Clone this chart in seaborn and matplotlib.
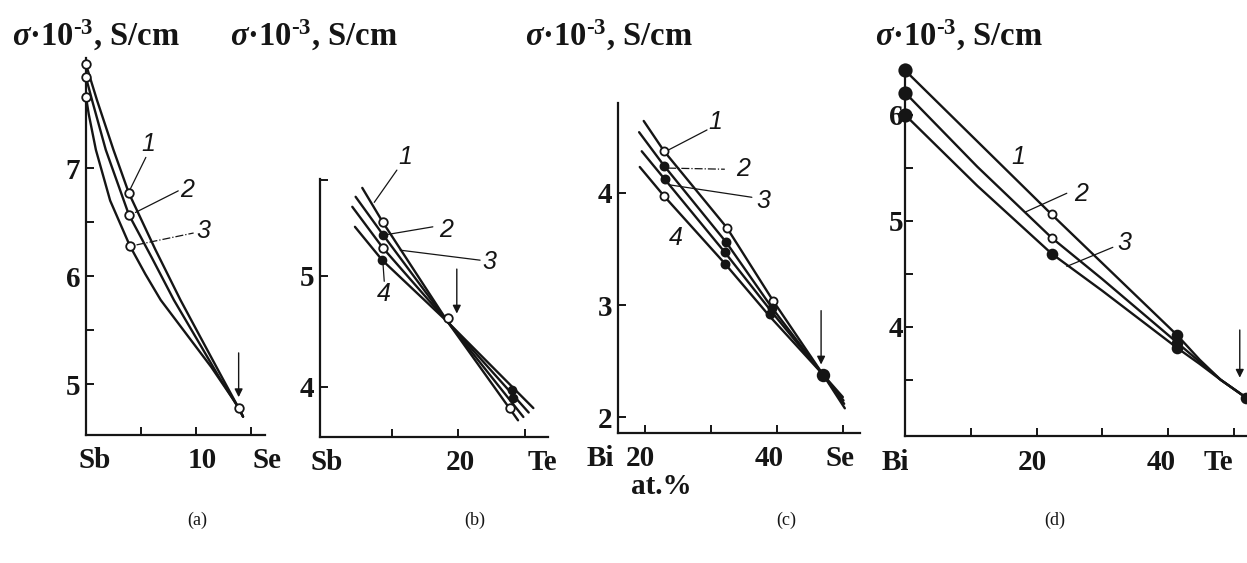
import numpy as np
import pandas as pd
import matplotlib
matplotlib.use("Agg")
import matplotlib.pyplot as plt
import seaborn as sns

sns.set_style("ticks")
plt.rcParams['font.family'] = ['Liberation Serif', 'DejaVu Serif']
plt.rcParams['mathtext.fontset'] = 'custom'
plt.rcParams['mathtext.rm'] = 'Liberation Serif:bold'
plt.rcParams['mathtext.it'] = 'Liberation Serif:italic:bold'
plt.rcParams['mathtext.bf'] = 'Liberation Serif:bold'

INK = '#151515'

# ---------------- data ----------------
# panel (a): Sb - Se
a_x1 = [0, 1.0, 2.5, 3.9, 6.3, 8.6, 10.5, 12.3, 13.9, 14.3]
a_y1 = [7.96, 7.63, 7.17, 6.77, 6.25, 5.78, 5.42, 5.08, 4.78, 4.70]
a_x2 = [0, 0.55, 1.8, 3.9, 6.0, 8.0, 10.2, 12.1, 13.9, 14.3]
a_y2 = [7.84, 7.63, 7.17, 6.57, 6.17, 5.78, 5.40, 5.07, 4.78, 4.70]
a_x3 = [0, 0.25, 0.9, 2.2, 4.0, 5.4, 6.8, 9.1, 11.4, 13.4, 13.9, 14.3]
a_y3 = [7.66, 7.50, 7.17, 6.70, 6.28, 6.02, 5.78, 5.47, 5.16, 4.86, 4.78, 4.70]
a_open_x = [0, 0, 0, 3.9, 3.9, 4.0, 13.9]
a_open_y = [7.96, 7.84, 7.66, 6.77, 6.57, 6.28, 4.78]

# panel (b): Sb - Te
b_x1 = [5.6, 8.7, 18.5, 29.0]
b_y1 = [5.79, 5.48, 4.58, 3.70]
b_x2 = [4.6, 8.7, 18.5, 29.8]
b_y2 = [5.71, 5.37, 4.58, 3.73]
b_x3 = [4.1, 8.7, 18.5, 30.6]
b_y3 = [5.62, 5.25, 4.58, 3.77]
b_x4 = [4.5, 8.6, 18.5, 31.3]
b_y4 = [5.44, 5.14, 4.58, 3.81]
b_open_x = [8.7, 8.7, 18.5, 27.8]
b_open_y = [5.48, 5.25, 4.62, 3.81]
b_fill_x = [8.6, 8.7, 28.1, 28.3]
b_fill_y = [5.14, 5.37, 3.97, 3.90]

# panel (c): Bi - Se
c_x1 = [19.8, 22.9, 32.4, 39.4, 47.0, 50.3]
c_y1 = [4.64, 4.37, 3.69, 3.04, 2.38, 2.08]
c_x2 = [19.1, 22.9, 32.3, 39.2, 47.0, 50.2]
c_y2 = [4.54, 4.24, 3.56, 2.98, 2.38, 2.12]
c_x3 = [19.5, 23.0, 32.1, 39.2, 47.0, 50.1]
c_y3 = [4.37, 4.12, 3.47, 2.94, 2.38, 2.15]
c_x4 = [19.2, 22.9, 32.1, 38.9, 47.0, 50.0]
c_y4 = [4.23, 3.97, 3.37, 2.90, 2.38, 2.18]
c_open_x = [22.9, 22.9, 32.4, 39.4]
c_open_y = [4.37, 3.97, 3.69, 3.04]
c_fill_x = [22.9, 23.0, 32.3, 32.1, 32.1, 39.2, 39.0, 47.0]
c_fill_y = [4.24, 4.12, 3.56, 3.47, 3.37, 2.97, 2.92, 2.38]

# panel (d): Bi - Te
d_x1 = [0, 22.3, 41.4, 44.8, 48.0, 51.9]
d_y1 = [6.42, 5.06, 3.92, 3.69, 3.50, 3.33]
d_x2 = [0, 11.0, 22.3, 30.0, 41.4, 44.8, 48.0, 51.9]
d_y2 = [6.21, 5.51, 4.84, 4.45, 3.85, 3.67, 3.50, 3.33]
d_x3 = [0, 11.0, 22.3, 30.0, 41.4, 44.8, 48.0, 51.9]
d_y3 = [6.00, 5.33, 4.69, 4.34, 3.80, 3.65, 3.50, 3.33]
d_open_x = [22.3, 22.3]
d_open_y = [5.06, 4.84]
d_fill_x = [0, 0, 0, 22.3, 41.4, 41.4, 41.4, 51.9]
d_fill_y = [6.42, 6.21, 6.00, 4.69, 3.92, 3.85, 3.80, 3.33]

title_text = '$\\sigma$\u00b710$^{\u20103}$, S/cm'
panel_names = ['(a)', '(b)', '(c)', '(d)']
a_elem = ['Sb', 'Se']
b_elem = ['Sb', 'Te']
c_elem = ['Bi', 'Se']
d_elem = ['Bi', 'Te']
xunit = 'at.%'

# ---------------- figure ----------------
W, H = 1247, 563
fig = plt.figure(figsize=(W / 100, H / 100), dpi=100)
fig.patch.set_facecolor('white')


def make_ax(l, r, b, t, xlim, ylim):
    ax = fig.add_axes([l / W, 1 - b / H, (r - l) / W, (b - t) / H])
    ax.set_xlim(*xlim)
    ax.set_ylim(*ylim)
    ax.set_facecolor('none')
    for s in ['top', 'right']:
        ax.spines[s].set_visible(False)
    for s in ['left', 'bottom']:
        ax.spines[s].set_linewidth(1.6)
        ax.spines[s].set_color(INK)
    ax.tick_params(which='both', direction='in', color=INK, width=1.4)
    ax.tick_params(axis='both', which='major', length=6, labelsize=21, pad=4)
    ax.tick_params(axis='both', which='minor', length=6)
    ax.tick_params(axis='x', which='major', pad=9)
    return ax


def style_labels(ax):
    for lab in ax.get_xticklabels() + ax.get_yticklabels():
        lab.set_fontweight('bold')
        lab.set_color(INK)


def lines(ax, pairs):
    for xs, ys in pairs:
        sns.lineplot(x=xs, y=ys, ax=ax, color=INK, lw=1.7, sort=False,
                     estimator=None, legend=False)


def pts(ax, xs, ys, filled, s=40):
    sns.scatterplot(x=xs, y=ys, ax=ax, s=s, marker='o',
                    facecolor=INK if filled else 'white', edgecolor=INK,
                    linewidth=1.3, zorder=4, legend=False, clip_on=False)


def elem(ax, x, txt):
    ax.annotate(txt, xy=(x, 0), xycoords=('data', 'axes fraction'),
                xytext=(0, -9), textcoords='offset points', ha='center', va='top',
                fontsize=21, fontweight='bold', color=INK, annotation_clip=False)


def curve_label(ax, x, y, txt, lead=None, ls='-'):
    ax.text(x, y, txt, fontsize=18, style='italic', family='Liberation Sans',
            color=INK, ha='center', va='center', clip_on=False)
    if lead is not None:
        (x0, y0), (x1, y1) = lead
        ax.plot([x0, x1], [y0, y1], color=INK, lw=0.9, ls=ls, clip_on=False)


def arrow(ax, x, y0, y1):
    ax.annotate('', xy=(x, y1), xytext=(x, y0),
                arrowprops=dict(arrowstyle='-|>', color=INK, lw=1.0,
                                mutation_scale=12, shrinkA=0, shrinkB=0))


# ----- (a)
axa = make_ax(86, 265, 435, 58, (0, 16.3), (4.53, 8.02))
lines(axa, [(a_x1, a_y1), (a_x2, a_y2), (a_x3, a_y3)])
pts(axa, a_open_x, a_open_y, False, 38)
axa.set_yticks([5, 6, 7], ['5', '6', '7'])
axa.set_yticks([5.5, 6.5], minor=True)
axa.set_xticks([10.6], ['10'])
axa.tick_params(axis='x', which='major', length=0)
axa.set_xticks([5, 10, 15], minor=True)
elem(axa, 0.8, a_elem[0])
elem(axa, 16.5, a_elem[1])
curve_label(axa, 5.7, 7.22, '1', ((3.95, 6.79), (5.45, 7.10)))
curve_label(axa, 9.2, 6.80, '2', ((4.5, 6.59), (8.4, 6.79)))
curve_label(axa, 10.7, 6.42, '3', ((4.6, 6.29), (9.8, 6.40)), ls='-.')
arrow(axa, 13.9, 5.29, 4.88)
style_labels(axa)

# ----- (b)
axb = make_ax(320, 548, 437, 179, (-0.75, 33.5), (3.55, 5.87))
lines(axb, [(b_x1, b_y1), (b_x2, b_y2), (b_x3, b_y3), (b_x4, b_y4)])
pts(axb, b_open_x, b_open_y, False, 38)
pts(axb, b_fill_x, b_fill_y, True, 32)
axb.set_yticks([4, 5], ['4', '5'])
axb.set_yticks([5.86], minor=True)
axb.set_xticks([20.3], ['20'])
axb.tick_params(axis='x', which='major', length=0)
axb.set_xticks([10, 20, 30], minor=True)
elem(axb, 0.3, b_elem[0])
elem(axb, 32.6, b_elem[1])
curve_label(axb, 12.0, 6.07, '1', ((7.4, 5.66), (10.8, 5.95)))
curve_label(axb, 18.2, 5.41, '2', ((8.3, 5.36), (16.2, 5.44)))
curve_label(axb, 24.7, 5.12, '3', ((11.3, 5.23), (23.3, 5.14)))
curve_label(axb, 8.9, 4.84, '4', ((8.7, 5.12), (8.9, 4.95)))
arrow(axb, 19.8, 5.06, 4.66)
style_labels(axb)

# ----- (c)
axc = make_ax(618, 860, 433, 103, (15.9, 52.6), (1.86, 4.80))
lines(axc, [(c_x1, c_y1), (c_x2, c_y2), (c_x3, c_y3), (c_x4, c_y4)])
pts(axc, c_open_x, c_open_y, False, 34)
pts(axc, c_fill_x[:-1], c_fill_y[:-1], True, 34)
pts(axc, c_fill_x[-1:], c_fill_y[-1:], True, 70)
axc.set_yticks([2, 3, 4], ['2', '3', '4'])
axc.set_xticks([19.3, 38.8], ['20', '40'])
axc.tick_params(axis='x', which='major', length=0)
axc.set_xticks([20, 30, 40, 50], minor=True)
elem(axc, 13.2, c_elem[0])
elem(axc, 49.6, c_elem[1])
curve_label(axc, 30.7, 4.63, '1', ((23.5, 4.38), (29.4, 4.56)))
curve_label(axc, 34.9, 4.21, '2', ((23.5, 4.22), (32.1, 4.21)), ls='-.')
curve_label(axc, 38.0, 3.93, '3', ((23.8, 4.07), (36.2, 3.96)))
curve_label(axc, 24.6, 3.60, '4')
arrow(axc, 46.7, 2.95, 2.47)
axc.annotate(xunit, xy=(0.18, 0), xycoords='axes fraction', xytext=(0, -29),
             textcoords='offset points', ha='center', va='top', fontsize=21,
             fontweight='bold', color=INK)
style_labels(axc)

# ----- (d)
axd = make_ax(905, 1247, 436, 65, (0, 52.0), (2.97, 6.47))
lines(axd, [(d_x1, d_y1), (d_x2, d_y2), (d_x3, d_y3)])
pts(axd, d_open_x, d_open_y, False, 34)
pts(axd, d_fill_x[:3], d_fill_y[:3], True, 80)
pts(axd, d_fill_x[3:], d_fill_y[3:], True, 50)
axd.set_yticks([4, 5, 6], ['4', '5', '6'])
axd.set_yticks([3.5, 4.5, 5.5], minor=True)
axd.tick_params(axis='y', which='major', pad=1)
axd.set_xticks([19.3, 38.9], ['20', '40'])
axd.tick_params(axis='x', which='major', length=0)
axd.set_xticks([10, 20, 30, 40, 50], minor=True)
elem(axd, -1.5, d_elem[0])
elem(axd, 47.6, d_elem[1])
curve_label(axd, 17.2, 5.60, '1')
curve_label(axd, 26.8, 5.25, '2', ((18.2, 5.08), (24.6, 5.26)))
curve_label(axd, 33.3, 4.79, '3', ((24.6, 4.57), (31.6, 4.75)))
arrow(axd, 50.9, 3.97, 3.52)
style_labels(axd)

# ----- titles and panel names
for x0 in [12, 230, 525, 875]:
    fig.text(x0 / W, 1 - 46 / H, title_text, fontsize=23.5, fontweight='bold',
             color=INK, ha='left', va='baseline')
for x0, name in zip([197, 475, 786, 1055], panel_names):
    fig.text(x0 / W, 1 - 520 / H, name, fontsize=13, color=INK,
             ha='center', va='center')

fig.savefig('out.png', dpi=100, facecolor='white')
